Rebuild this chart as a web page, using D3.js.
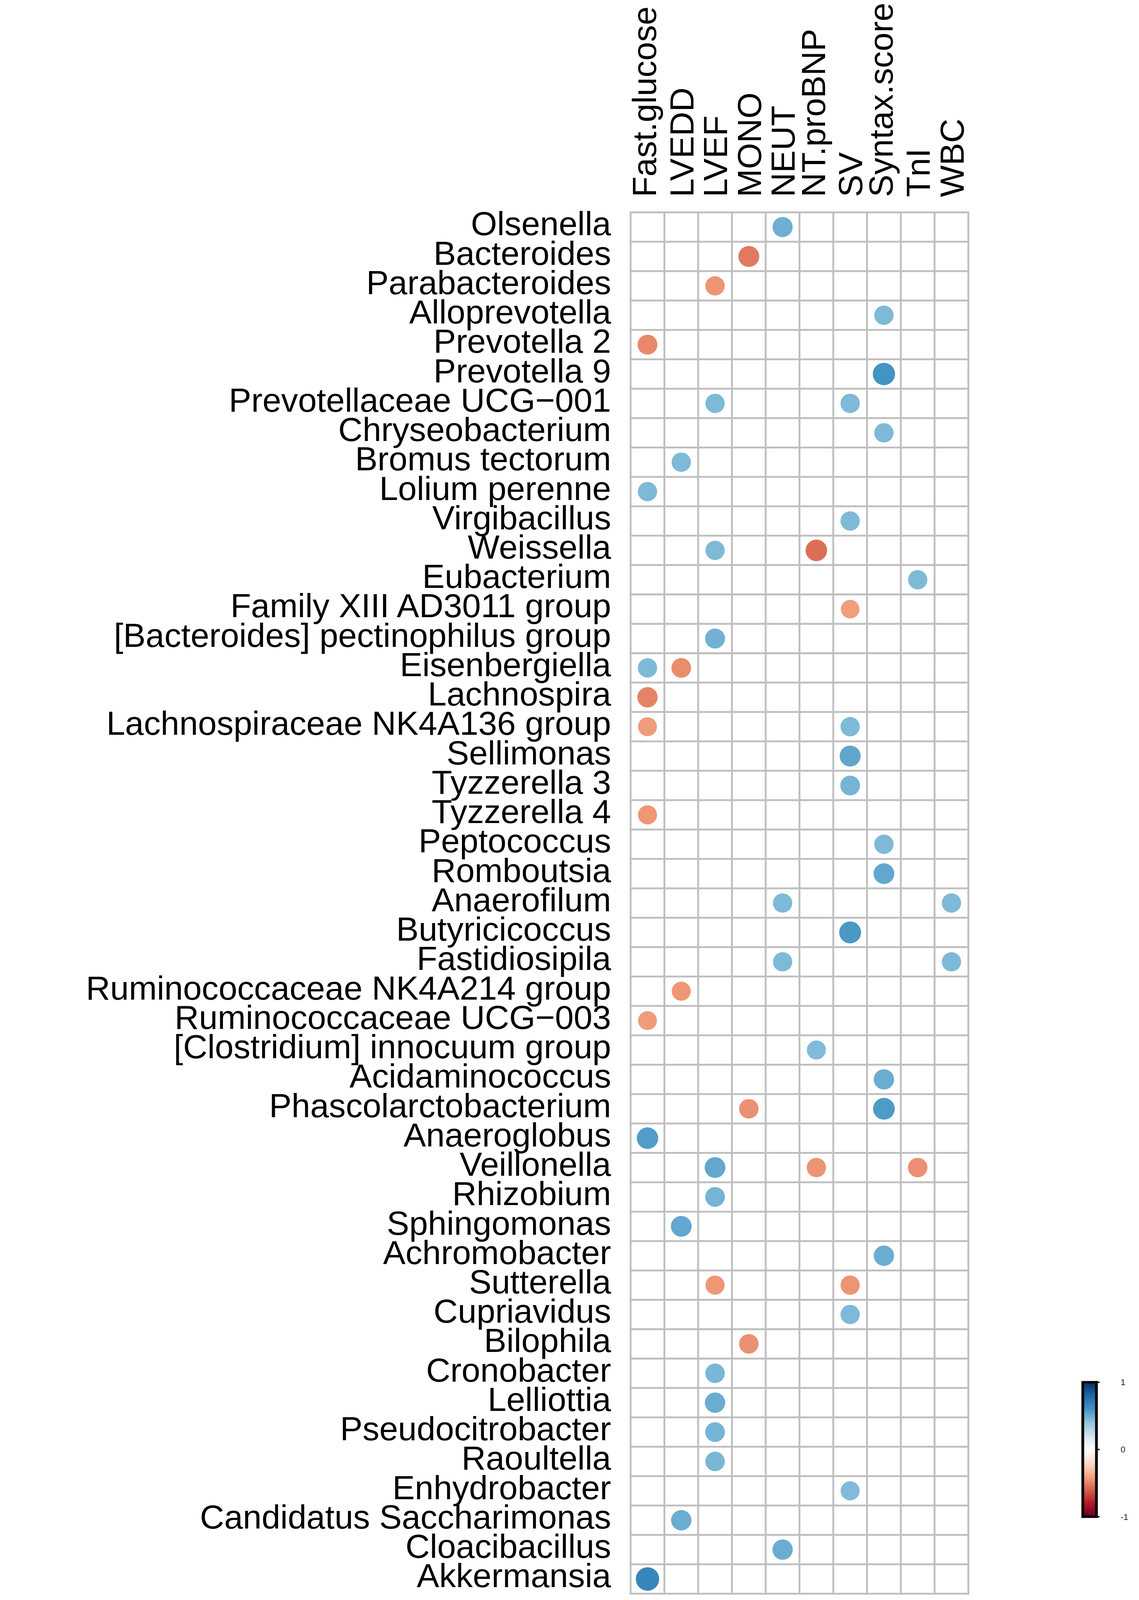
<!DOCTYPE html>
<html>
<head>
<meta charset="utf-8">
<script src="https://cdn.jsdelivr.net/npm/d3@7"></script>
<style>
  html, body { margin: 0; padding: 0; width: 100%; height: 100%; overflow: hidden; background: #fff; }
  svg { display: block; width: 100vw; height: 100vh; }
</style>
</head>
<body>
<svg id="chart"></svg>
<script>
const taxa = [
  "Olsenella", "Bacteroides", "Parabacteroides", "Alloprevotella", "Prevotella 2",
  "Prevotella 9", "Prevotellaceae UCG\u2212001", "Chryseobacterium", "Bromus tectorum",
  "Lolium perenne", "Virgibacillus", "Weissella", "Eubacterium", "Family XIII AD3011 group",
  "[Bacteroides] pectinophilus group", "Eisenbergiella", "Lachnospira",
  "Lachnospiraceae NK4A136 group", "Sellimonas", "Tyzzerella 3", "Tyzzerella 4",
  "Peptococcus", "Romboutsia", "Anaerofilum", "Butyricicoccus", "Fastidiosipila",
  "Ruminococcaceae NK4A214 group", "Ruminococcaceae UCG\u2212003",
  "[Clostridium] innocuum group", "Acidaminococcus", "Phascolarctobacterium",
  "Anaeroglobus", "Veillonella", "Rhizobium", "Sphingomonas", "Achromobacter",
  "Sutterella", "Cupriavidus", "Bilophila", "Cronobacter", "Lelliottia",
  "Pseudocitrobacter", "Raoultella", "Enhydrobacter", "Candidatus Saccharimonas",
  "Cloacibacillus", "Akkermansia"
];

const variables = [
  "Fast.glucose", "LVEDD", "LVEF", "MONO", "NEUT",
  "NT.proBNP", "SV", "Syntax.score", "TnI", "WBC"
];

// significant correlations only: [taxon index, variable index, r]
const correlations = [
  [0, 4, 0.49], [1, 3, -0.53], [2, 2, -0.45], [3, 7, 0.45], [4, 0, -0.48],
  [5, 7, 0.60], [6, 2, 0.45], [6, 6, 0.45], [7, 7, 0.45], [8, 1, 0.45],
  [9, 0, 0.45], [10, 6, 0.45], [11, 2, 0.45], [11, 5, -0.56], [12, 8, 0.45],
  [13, 6, -0.42], [14, 2, 0.48], [15, 0, 0.45], [15, 1, -0.47], [16, 0, -0.50],
  [17, 0, -0.43], [17, 6, 0.45], [18, 6, 0.53], [19, 6, 0.47], [20, 0, -0.44],
  [21, 7, 0.45], [22, 7, 0.52], [23, 4, 0.45], [23, 9, 0.45], [24, 6, 0.58],
  [25, 4, 0.45], [25, 9, 0.45], [26, 1, -0.44], [27, 0, -0.43], [28, 5, 0.44],
  [29, 7, 0.50], [30, 3, -0.46], [30, 7, 0.57], [31, 0, 0.56], [32, 2, 0.52],
  [32, 5, -0.45], [32, 8, -0.46], [33, 2, 0.47], [34, 1, 0.52], [35, 7, 0.50],
  [36, 2, -0.44], [36, 6, -0.45], [37, 6, 0.45], [38, 3, -0.46], [39, 2, 0.46],
  [40, 2, 0.50], [41, 2, 0.47], [42, 2, 0.46], [43, 6, 0.44], [44, 1, 0.50],
  [45, 4, 0.50], [46, 0, 0.66]
];

const paletteColors = [
  "#67001F", "#B2182B", "#D6604D", "#F4A582", "#FDDBC7", "#FFFFFF",
  "#D1E5F0", "#92C5DE", "#4393C3", "#2166AC", "#053061"
];
const legendTicks = [1, 0, -1];

const width = 2917;
const height = 4709;
const cell = 86.5;
const gridLeft = 1615;
const gridTop = 625;
const fontSize = 99;
const fontFamily = "'Liberation Sans', Arial, sans-serif";

// layout is in 2917x4709 units, stretched onto the window; k undoes the
// stretch for round marks and glyphs if the window has another aspect
const k = (window.innerHeight * width) / (window.innerWidth * height) || 1;

const svg = d3.select("#chart")
  .attr("viewBox", `0 0 ${width} ${height}`)
  .attr("preserveAspectRatio", "none");
svg.append("rect").attr("width", width).attr("height", height).attr("fill", "#fff");

const xScale = d3.scaleBand()
  .domain(variables)
  .range([gridLeft, gridLeft + cell * variables.length]);

const yScale = d3.scaleBand()
  .domain(taxa)
  .range([gridTop, gridTop + cell * taxa.length]);

const colorScale = d3.scaleLinear()
  .domain(d3.range(paletteColors.length).map((i) => -1 + (2 * i) / (paletteColors.length - 1)))
  .range(paletteColors)
  .interpolate(d3.interpolateRgb);

// grid
const grid = svg.append("g").attr("stroke", "#bfbfbf");
const xEdges = variables.map((v) => xScale(v)).concat([xScale.range()[1]]);
const yEdges = taxa.map((t) => yScale(t)).concat([yScale.range()[1]]);
grid.selectAll(".vline")
  .data(xEdges)
  .join("line")
  .attr("stroke-width", 5.5 * k)
  .attr("x1", (d) => d).attr("x2", (d) => d)
  .attr("y1", yScale.range()[0] - 2.75).attr("y2", yScale.range()[1] + 2.75);
grid.selectAll(".hline")
  .data(yEdges)
  .join("line")
  .attr("stroke-width", 5.5)
  .attr("y1", (d) => d).attr("y2", (d) => d)
  .attr("x1", xScale.range()[0]).attr("x2", xScale.range()[1]);

// circles, area proportional to |r|
svg.append("g")
  .selectAll("ellipse")
  .data(correlations)
  .join("ellipse")
  .attr("cx", (d) => xScale(variables[d[1]]) + xScale.bandwidth() / 2)
  .attr("cy", (d) => yScale(taxa[d[0]]) + yScale.bandwidth() / 2)
  .attr("rx", (d) => Math.sqrt(Math.abs(d[2])) * cell * 0.49 * k)
  .attr("ry", (d) => Math.sqrt(Math.abs(d[2])) * cell * 0.49)
  .attr("fill", (d) => colorScale(d[2]));

// row labels
svg.append("g")
  .selectAll("text")
  .data(taxa)
  .join("text")
  .attr("transform", (d) => {
    const y = yScale(d) + yScale.bandwidth() / 2 + 0.245 * fontSize;
    return `translate(${gridLeft - 50},${y}) scale(${k},1)`;
  })
  .attr("text-anchor", "end")
  .attr("font-family", fontFamily)
  .attr("font-size", fontSize)
  .attr("fill", "#000")
  .text((d) => d);

// column labels, rotated
svg.append("g")
  .selectAll("text")
  .data(variables)
  .join("text")
  .attr("transform", (d) => {
    const off = /[gjpqy]/.test(d) ? 0.253 * fontSize : 0.358 * fontSize;
    const x = xScale(d) + xScale.bandwidth() / 2;
    return `translate(${x},${gridTop - 45}) scale(${k},1) translate(${off},0) rotate(-90)`;
  })
  .attr("text-anchor", "start")
  .attr("font-family", fontFamily)
  .attr("font-size", fontSize)
  .attr("fill", "#000")
  .text((d) => d);

// colour legend
const legX = 2773;
const legW = 35;
const legTop = 4068;
const legBottom = 4464;
const legScale = d3.scaleLinear().domain([-1, 1]).range([legBottom, legTop]);

const defs = svg.append("defs");
const grad = defs.append("linearGradient")
  .attr("id", "legend-grad")
  .attr("x1", 0).attr("y1", 1).attr("x2", 0).attr("y2", 0);
grad.selectAll("stop")
  .data(paletteColors)
  .join("stop")
  .attr("offset", (_, i) => i / (paletteColors.length - 1))
  .attr("stop-color", (d) => d);

svg.append("rect")
  .attr("x", legX)
  .attr("y", legScale(1))
  .attr("width", legW)
  .attr("height", legScale(-1) - legScale(1))
  .attr("fill", "url(#legend-grad)")
  .attr("stroke", "#000")
  .attr("stroke-width", 7);

const legAxis = svg.append("g");
legAxis.selectAll("line")
  .data(legendTicks)
  .join("line")
  .attr("x1", legX + legW).attr("x2", legX + legW + 8)
  .attr("y1", (d) => legScale(d)).attr("y2", (d) => legScale(d))
  .attr("stroke", "#000")
  .attr("stroke-width", 4);
legAxis.selectAll("text")
  .data(legendTicks)
  .join("text")
  .attr("transform", (d) => `translate(2870,${legScale(d) + 9}) scale(${k},1)`)
  .attr("font-family", fontFamily)
  .attr("font-size", 25)
  .attr("fill", "#222")
  .text((d) => d);
</script>
</body>
</html>
